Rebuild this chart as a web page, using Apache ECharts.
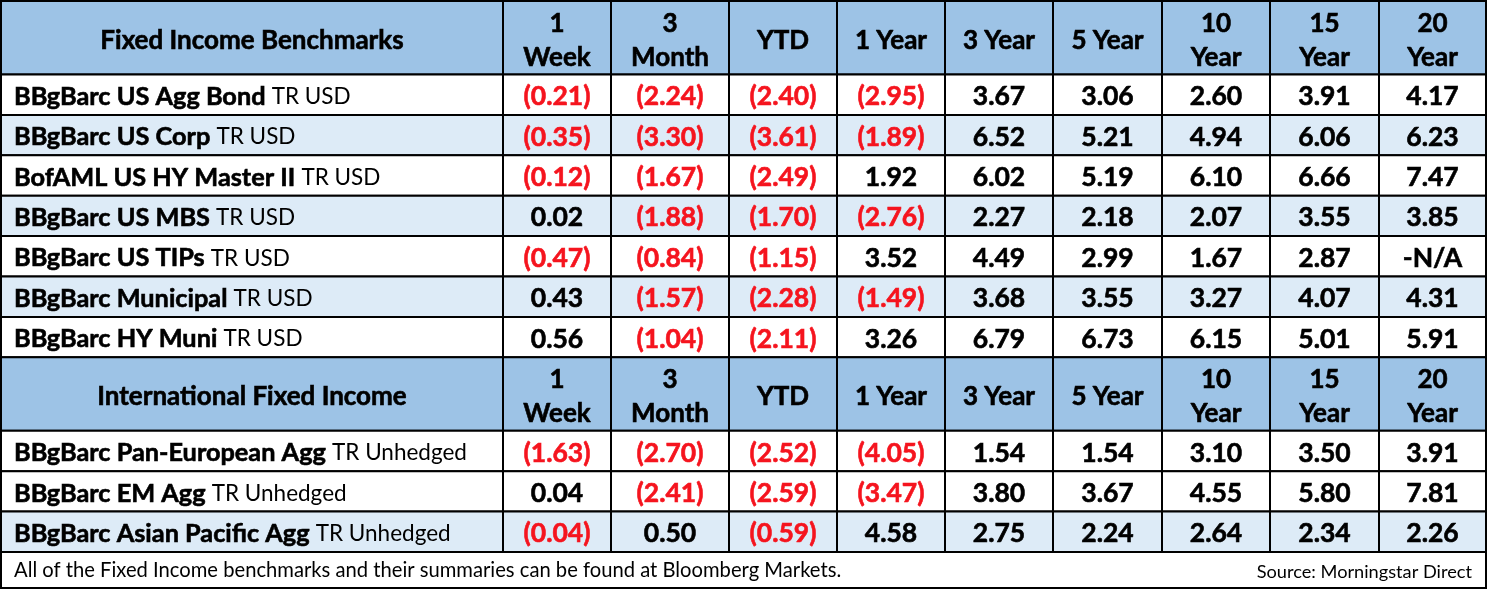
<!DOCTYPE html>
<html>
<head>
<meta charset="utf-8">
<title>Fixed Income Benchmarks</title>
<script src="https://cdn.jsdelivr.net/npm/echarts@6/dist/echarts.min.js"></script>
<style>
  html, body { margin: 0; padding: 0; background: #fff; }
  #main { width: 1488px; height: 590px; }
</style>
</head>
<body>
<div id="main"></div>
<script>
// column headers
const periods = ['1\nWeek', '3\nMonth', 'YTD', '1 Year', '3 Year', '5 Year', '10\nYear', '15\nYear', '20\nYear']

// fixed income benchmarks
const fixedTitle = 'Fixed Income Benchmarks'
const fixedNames = ['BBgBarc US Agg Bond', 'BBgBarc US Corp', 'BofAML US HY Master II', 'BBgBarc US MBS',
  'BBgBarc US TIPs', 'BBgBarc Municipal', 'BBgBarc HY Muni']
const fixedTags = ['TR USD', 'TR USD', 'TR USD', 'TR USD', 'TR USD', 'TR USD', 'TR USD']
const fixedValues = [
  [-0.21, -2.24, -2.40, -2.95, 3.67, 3.06, 2.60, 3.91, 4.17],
  [-0.35, -3.30, -3.61, -1.89, 6.52, 5.21, 4.94, 6.06, 6.23],
  [-0.12, -1.67, -2.49, 1.92, 6.02, 5.19, 6.10, 6.66, 7.47],
  [0.02, -1.88, -1.70, -2.76, 2.27, 2.18, 2.07, 3.55, 3.85],
  [-0.47, -0.84, -1.15, 3.52, 4.49, 2.99, 1.67, 2.87, null],
  [0.43, -1.57, -2.28, -1.49, 3.68, 3.55, 3.27, 4.07, 4.31],
  [0.56, -1.04, -2.11, 3.26, 6.79, 6.73, 6.15, 5.01, 5.91]
]

// international fixed income
const intlTitle = 'International Fixed Income'
const intlNames = ['BBgBarc Pan-European Agg', 'BBgBarc EM Agg', 'BBgBarc Asian Pacific Agg']
const intlTags = ['TR Unhedged', 'TR Unhedged', 'TR Unhedged']
const intlValues = [
  [-1.63, -2.70, -2.52, -4.05, 1.54, 1.54, 3.10, 3.50, 3.91],
  [0.04, -2.41, -2.59, -3.47, 3.80, 3.67, 4.55, 5.80, 7.81],
  [-0.04, 0.50, -0.59, 4.58, 2.75, 2.24, 2.64, 2.34, 2.26]
]

const footNote = 'All of the Fixed Income benchmarks and their summaries can be found at Bloomberg Markets.'
const sourceNote = 'Source: Morningstar Direct'

// layout (relative sizes, mapped by the axes)
const colWidths = [502, 108, 118, 108, 108, 108, 109, 108, 109, 107]
const HEAD_H = 73.5, ROW_H = 40.4, FOOT_H = 36

const FONT = 'Lato, "Open Sans", sans-serif'
const HEAD_BG = '#9dc3e6', ALT_BG = '#ddebf7', RED = '#f5141e'

function fmt(v) {
  if (v == null) return '-N/A'
  return v < 0 ? '(' + Math.abs(v).toFixed(2) + ')' : v.toFixed(2)
}

// build rows + cells
let rowHeights = []
let cells = []

function addHeader(title) {
  let r = rowHeights.length
  rowHeights.push(HEAD_H)
  cells.push({ col: 0, span: 1, row: r, kind: 'head', text: title, bg: HEAD_BG })
  periods.forEach((p, i) => {
    cells.push({ col: i + 1, span: 1, row: r, kind: 'head', text: p, bg: HEAD_BG })
  })
}

function addBlock(names, tags, values, shaded) {
  names.forEach((name, k) => {
    let r = rowHeights.length
    rowHeights.push(ROW_H)
    let bg = shaded(k) ? ALT_BG : '#ffffff'
    cells.push({ col: 0, span: 1, row: r, kind: 'name', text: name, tag: tags[k], bg: bg })
    values[k].forEach((v, i) => {
      cells.push({ col: i + 1, span: 1, row: r, kind: 'num', text: fmt(v), neg: v != null && v < 0, bg: bg })
    })
  })
}

addHeader(fixedTitle)
addBlock(fixedNames, fixedTags, fixedValues, k => k % 2 === 1)
addHeader(intlTitle)
addBlock(intlNames, intlTags, intlValues, k => k === 2)
rowHeights.push(FOOT_H)
cells.push({ col: 0, span: colWidths.length, row: rowHeights.length - 1, kind: 'foot', bg: '#ffffff' })

const colStart = [0]
colWidths.forEach(w => colStart.push(colStart[colStart.length - 1] + w))
const rowStart = [0]
rowHeights.forEach(h => rowStart.push(rowStart[rowStart.length - 1] + h))

// bold text, slightly thickened with a thin outline of the same colour
function boldStyle(color, size) {
  return { fill: color, stroke: color, lineWidth: 0.6, fontFamily: FONT, fontWeight: 'bold', fontSize: size }
}

function renderItem(params, api) {
  let c = cells[params.dataIndex]
  let p0 = api.coord([colStart[c.col], rowStart[c.row]])
  let p1 = api.coord([colStart[c.col + c.span], rowStart[c.row + 1]])
  let x = p0[0], y = p0[1], w = p1[0] - p0[0], h = p1[1] - p0[1]
  let children = [{
    type: 'rect',
    shape: { x: x, y: y, width: w, height: h },
    style: { fill: c.bg, stroke: '#000', lineWidth: 2 }
  }]
  if (c.kind === 'head') {
    children.push({
      type: 'text',
      style: Object.assign(boldStyle('#000', 26), {
        x: x + w / 2, y: y + h / 2 + 3, text: c.text, align: 'center', verticalAlign: 'middle', lineHeight: 34
      })
    })
  } else if (c.kind === 'name') {
    children.push({
      type: 'text',
      style: {
        x: x + 13, y: y + h / 2 + 2, text: '{b|' + c.text + ' }{n|' + c.tag + '}',
        align: 'left', verticalAlign: 'middle',
        rich: {
          b: boldStyle('#000', 25.3),
          n: { fontFamily: FONT, fontWeight: 'normal', fontSize: 22.5, fill: '#000' }
        }
      }
    })
  } else if (c.kind === 'num') {
    children.push({
      type: 'text',
      style: Object.assign(boldStyle(c.neg ? RED : '#000', 26.5), {
        x: x + w / 2, y: y + h / 2 + 2, text: c.text, align: 'center', verticalAlign: 'middle'
      })
    })
  } else {
    children.push({
      type: 'text',
      style: {
        x: x + 13, y: y + h / 2, text: footNote, align: 'left', verticalAlign: 'middle',
        fill: '#000', fontFamily: FONT, fontSize: 20.2
      }
    }, {
      type: 'text',
      style: {
        x: x + w - 14, y: y + h / 2 + 2, text: sourceNote, align: 'right', verticalAlign: 'middle',
        fill: '#000', fontFamily: FONT, fontSize: 18.2
      }
    })
  }
  return { type: 'group', children: children }
}

const chart = echarts.init(document.getElementById('main'), null, { renderer: 'canvas' })

chart.setOption({
  animation: false,
  backgroundColor: '#fff',
  grid: { left: 1, top: 1, width: 1485, height: 587 },
  xAxis: { type: 'value', min: 0, max: colStart[colStart.length - 1], show: false },
  yAxis: { type: 'value', min: 0, max: rowStart[rowStart.length - 1], inverse: true, show: false },
  series: [{
    type: 'custom',
    clip: false,
    renderItem: renderItem,
    data: cells.map(c => [c.col, c.row])
  }]
})
</script>
</body>
</html>
